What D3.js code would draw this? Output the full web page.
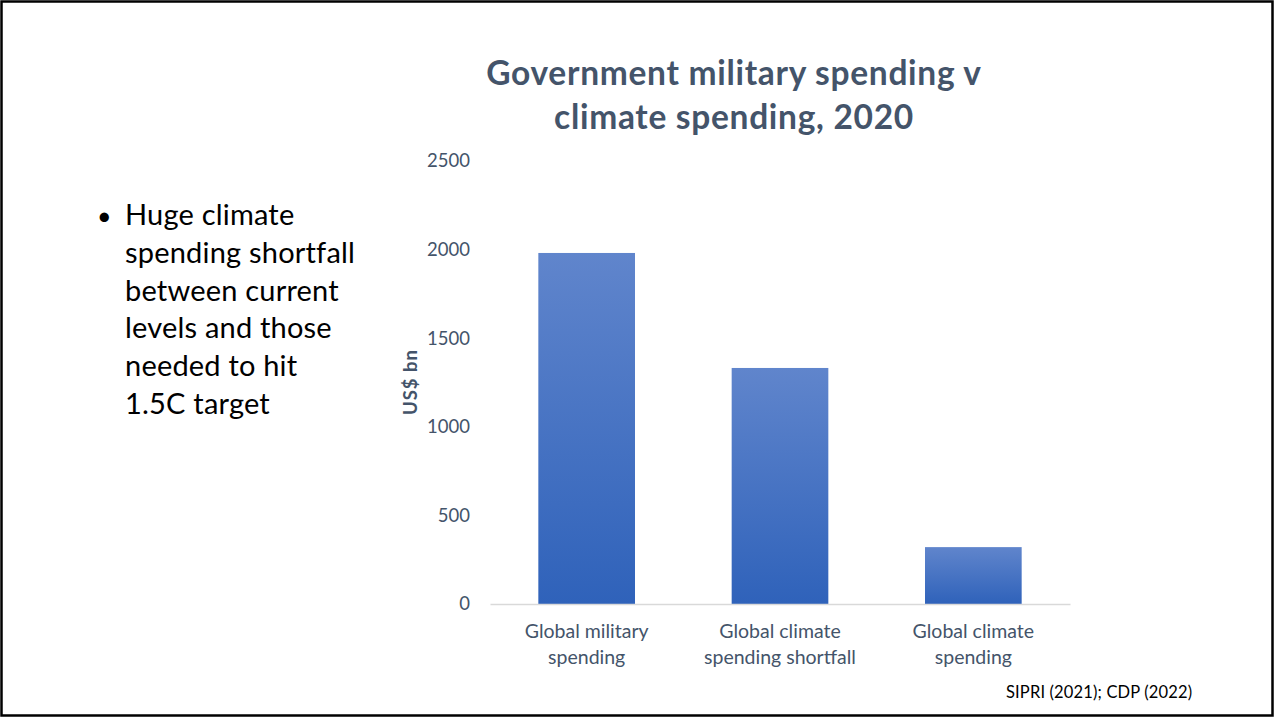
<!DOCTYPE html>
<html>
<head>
<meta charset="utf-8">
<script src="https://cdn.jsdelivr.net/npm/d3@7"></script>
<style>
  body { margin: 0; background: #fff; }
  svg { display: block; }
</style>
</head>
<body>
<div id="graph"></div>
<script>
const categories = [
  ['Global military', 'spending'],
  ['Global climate', 'spending shortfall'],
  ['Global climate', 'spending']
];
const values = [1981, 1332, 321];
const yTicks = [0, 500, 1000, 1500, 2000, 2500];
const titleLines = ['Government military spending v', 'climate spending, 2020'];
const bulletLines = ['Huge climate', 'spending shortfall', 'between current', 'levels and those', 'needed to hit', '1.5C target'];
const sourceText = 'SIPRI (2021); CDP (2022)';

const W = 1274, H = 717;
const margin = { top: 161, right: 204, bottom: 113, left: 490 },
  width = W - margin.left - margin.right,
  height = H - margin.top - margin.bottom;

const slate = '#44546A';
const font = 'Lato, "Open Sans", sans-serif';

let svg = d3.select('#graph').append('svg').attr('width', W).attr('height', H);

// frame
svg.append('rect')
  .attr('x', 1.5).attr('y', 1.5)
  .attr('width', W - 3).attr('height', H - 3)
  .attr('fill', '#fff').attr('stroke', '#000').attr('stroke-width', 2.5);

let grad = svg.append('defs').append('linearGradient')
  .attr('id', 'barGrad').attr('x1', 0).attr('y1', 0).attr('x2', 0).attr('y2', 1);
grad.append('stop').attr('offset', '0%').attr('stop-color', '#6085CC');
grad.append('stop').attr('offset', '100%').attr('stop-color', '#2F62BA');

let xScale = d3.scaleBand().domain(d3.range(values.length)).range([0, width])
  .paddingInner(0.5).paddingOuter(0.25);
let yScale = d3.scaleLinear().domain([0, 2500]).range([height, 0]);

let vis = svg.append('g')
  .attr('transform', 'translate(' + margin.left + ',' + margin.top + ')');

// bars
vis.selectAll('rect.bar')
  .data(values)
  .join('rect')
  .attr('class', 'bar')
  .attr('x', (d, i) => xScale(i))
  .attr('y', (d) => yScale(d))
  .attr('width', xScale.bandwidth())
  .attr('height', (d) => height - yScale(d))
  .attr('fill', 'url(#barGrad)');

// x axis
let xAxis = vis.append('g')
  .attr('transform', 'translate(0,' + height + ')')
  .call(d3.axisBottom(xScale).tickSize(0).tickFormat(''));
xAxis.select('.domain').attr('stroke', '#D9D9D9').attr('stroke-width', 1.5);

xAxis.selectAll('.tick').each(function (d, i) {
  let t = d3.select(this).append('text')
    .attr('fill', slate)
    .attr('font-family', font)
    .attr('font-size', 19.5)
    .attr('text-anchor', 'middle');
  categories[i].forEach((line, j) => {
    t.append('tspan').attr('x', 0).attr('y', 34 + j * 26).text(line);
  });
});

// y axis
let yAxis = vis.append('g')
  .call(d3.axisLeft(yScale).tickValues(yTicks).tickSize(0).tickPadding(20)
    .tickFormat(d3.format('d')));
yAxis.select('.domain').remove();
yAxis.selectAll('text')
  .attr('fill', slate)
  .attr('font-family', font)
  .attr('font-size', 18.5);

// y title
svg.append('text')
  .attr('transform', 'translate(417,382) rotate(-90)')
  .attr('text-anchor', 'middle')
  .attr('fill', slate)
  .attr('font-family', font)
  .attr('font-weight', 'bold')
  .attr('font-size', 18.5)
  .attr('letter-spacing', 1)
  .text('US$ bn');

// title
svg.append('g').selectAll('text')
  .data(titleLines)
  .join('text')
  .attr('x', 734)
  .attr('y', (d, i) => 85 + i * 44)
  .attr('text-anchor', 'middle')
  .attr('fill', slate)
  .attr('font-family', font)
  .attr('font-weight', 'bold')
  .attr('font-size', 33.5)
  .attr('letter-spacing', 0.7)
  .text((d) => d);

// bullet text
svg.append('text')
  .attr('x', 97).attr('y', 225)
  .attr('font-family', font)
  .attr('font-size', 25)
  .attr('fill', '#000')
  .text('•');
svg.append('g').selectAll('text')
  .data(bulletLines)
  .join('text')
  .attr('x', 125)
  .attr('y', (d, i) => 225 + i * 37.8)
  .attr('font-family', font)
  .attr('font-size', 29)
  .attr('letter-spacing', 0.2)
  .attr('fill', '#000')
  .text((d) => d);

// source
svg.append('text')
  .attr('x', 1006).attr('y', 698)
  .attr('font-family', font)
  .attr('font-size', 16.5)
  .attr('letter-spacing', 0.15)
  .attr('fill', '#000')
  .text(sourceText);
</script>
</body>
</html>
